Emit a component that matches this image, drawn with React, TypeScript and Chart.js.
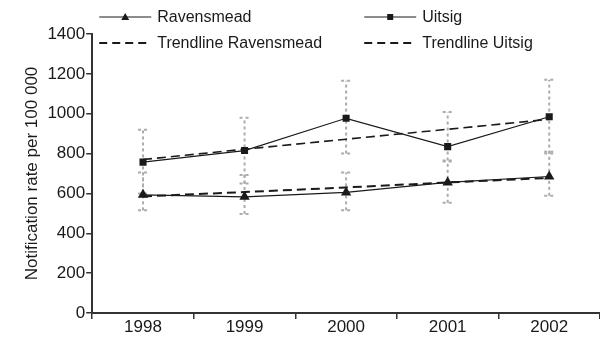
import React, { useEffect, useRef } from "react";
import { Chart, registerables } from "chart.js";

Chart.register(...registerables);

const years = ["1998", "1999", "2000", "2001", "2002"];
const ravensmead = [593, 583, 605, 655, 685];
const uitsig = [757, 815, 977, 835, 985];
const trendRavensmead = [585, 607, 630, 655, 678];
const trendUitsig = [770, 822, 872, 922, 972];
const ravensmeadLow = [515, 497, 515, 553, 588];
const ravensmeadHigh = [705, 692, 705, 760, 809];
const uitsigLow = [600, 650, 800, 765, 800];
const uitsigHigh = [920, 980, 1165, 1008, 1170];
const yTicks = [0, 200, 400, 600, 800, 1000, 1200, 1400];

const FONT = "'Liberation Sans', Arial, Helvetica, sans-serif";

const errorBarPlugin = {
  id: "errorBars",
  beforeDatasetsDraw(chart: any) {
    const { ctx, scales } = chart;
    const xs = scales.x;
    const ys = scales.y;
    ctx.save();
    ctx.strokeStyle = "#acacac";
    ctx.lineWidth = 2;
    ctx.setLineDash([3, 3]);
    const draw = (lows: number[], highs: number[]) => {
      for (let i = 0; i < years.length; i++) {
        const x = xs.getPixelForValue(i);
        const yl = ys.getPixelForValue(lows[i]);
        const yh = ys.getPixelForValue(highs[i]);
        ctx.beginPath();
        ctx.moveTo(x, yl);
        ctx.lineTo(x, yh);
        ctx.stroke();
        ctx.beginPath();
        ctx.moveTo(x - 5, yl);
        ctx.lineTo(x + 6, yl);
        ctx.moveTo(x - 5, yh);
        ctx.lineTo(x + 6, yh);
        ctx.stroke();
      }
    };
    draw(uitsigLow, uitsigHigh);
    draw(ravensmeadLow, ravensmeadHigh);
    ctx.restore();
  },
};

const legendPlugin = {
  id: "customLegend",
  afterDraw(chart: any) {
    const { ctx, chartArea } = chart;
    const items = [
      { label: "Ravensmead", dash: false, marker: "triangle", col: 0, row: 0 },
      { label: "Uitsig", dash: false, marker: "rect", col: 1, row: 0 },
      { label: "Trendline Ravensmead", dash: true, marker: "", col: 0, row: 1 },
      { label: "Trendline Uitsig", dash: true, marker: "", col: 1, row: 1 },
    ];
    ctx.save();
    ctx.font = `16px ${FONT}`;
    ctx.textBaseline = "middle";
    ctx.fillStyle = "#1a1a1a";
    for (const it of items) {
      const x0 = chartArea.left + 7 + it.col * 265;
      const y = 17 + it.row * 26;
      ctx.strokeStyle = "#1a1a1a";
      if (it.dash) {
        ctx.lineWidth = 2;
        ctx.setLineDash([8, 5]);
      } else {
        ctx.lineWidth = 1.2;
        ctx.setLineDash([]);
      }
      ctx.beginPath();
      ctx.moveTo(x0, y);
      ctx.lineTo(x0 + 52, y);
      ctx.stroke();
      ctx.setLineDash([]);
      const mx = x0 + 26;
      if (it.marker === "triangle") {
        ctx.beginPath();
        ctx.moveTo(mx, y - 4);
        ctx.lineTo(mx + 4, y + 3);
        ctx.lineTo(mx - 4, y + 3);
        ctx.closePath();
        ctx.fill();
      } else if (it.marker === "rect") {
        ctx.fillRect(mx - 3, y - 3, 6, 6);
      }
      ctx.fillText(it.label, x0 + 58, y + 1);
    }
    ctx.restore();
  },
};

export default function App() {
  const ref = useRef<HTMLCanvasElement>(null);
  useEffect(() => {
    if (!ref.current) return;
    const chart = new Chart(ref.current, {
      type: "line",
      data: {
        labels: years,
        datasets: [
          {
            label: "Ravensmead",
            data: ravensmead,
            borderColor: "#1a1a1a",
            backgroundColor: "#1a1a1a",
            borderWidth: 1.2,
            pointStyle: "triangle",
            pointRadius: 6,
            pointBorderWidth: 0,
          },
          {
            label: "Uitsig",
            data: uitsig,
            borderColor: "#1a1a1a",
            backgroundColor: "#1a1a1a",
            borderWidth: 1.2,
            pointStyle: "rect",
            pointRadius: 5,
            pointBorderWidth: 0,
          },
          {
            label: "Trendline Ravensmead",
            data: trendRavensmead,
            borderColor: "#1a1a1a",
            borderWidth: 2,
            borderDash: [9, 5],
            pointRadius: 0,
          },
          {
            label: "Trendline Uitsig",
            data: trendUitsig,
            borderColor: "#1a1a1a",
            borderWidth: 1.6,
            borderDash: [9, 5],
            pointRadius: 0,
          },
        ],
      },
      options: {
        animation: false,
        responsive: false,
        layout: { autoPadding: false, padding: { top: 34, right: 0, bottom: 2, left: 22 } },
        plugins: { legend: { display: false }, tooltip: { enabled: false } },
        scales: {
          x: {
            type: "category",
            offset: true,
            grid: {
              display: true,
              drawOnChartArea: false,
              drawTicks: true,
              tickLength: 6,
              offset: true,
              color: "#333",
              lineWidth: 1.5,
            },
            border: { display: true, color: "#333", width: 2 },
            ticks: {
              color: "#1a1a1a",
              font: { family: FONT, size: 17, lineHeight: 1 },
              padding: 0,
            },
          },
          y: {
            min: 0,
            max: 1400,
            afterBuildTicks: (axis: any) => {
              axis.ticks = yTicks.map((v) => ({ value: v }));
            },
            grid: {
              display: true,
              drawOnChartArea: false,
              drawTicks: true,
              tickLength: 6,
              color: "#333",
              lineWidth: 1.5,
            },
            border: { display: true, color: "#333", width: 2 },
            ticks: {
              color: "#1a1a1a",
              font: { family: FONT, size: 17 },
              padding: 1,
              callback: (v: any) => String(v),
            },
            title: {
              display: true,
              text: "Notification rate per 100 000",
              color: "#1a1a1a",
              font: { family: FONT, size: 17 },
              padding: { top: 0, bottom: 4 },
            },
          },
        },
      },
      plugins: [errorBarPlugin, legendPlugin],
    });
    return () => chart.destroy();
  }, []);
  return (
    <div style={{ position: "fixed", left: 0, top: 0, width: 600, height: 338, background: "#fff" }}>
      <canvas ref={ref} width={600} height={338} style={{ display: "block" }} />
    </div>
  );
}
